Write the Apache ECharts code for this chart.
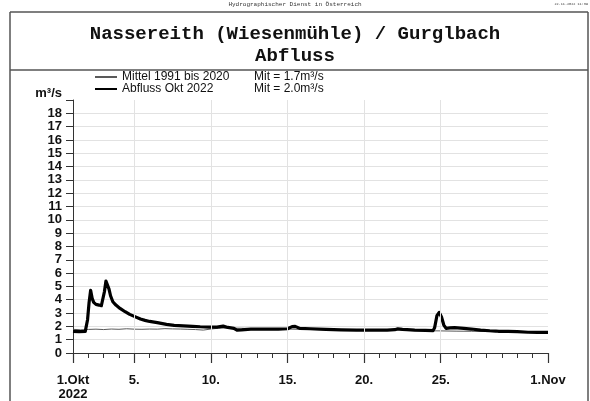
<!DOCTYPE html>
<html>
<head>
<meta charset="utf-8">
<script src="https://cdn.jsdelivr.net/npm/echarts@6/dist/echarts.min.js"></script>
<style>
  html, body { margin: 0; padding: 0; background: #fff; }
  #chart { width: 590px; height: 401px; }
</style>
</head>
<body>
<div id="chart"></div>
<script>
// Days are counted from 1 Oct 2022 00:00 (0) to 1 Nov 2022 00:00 (31).
const abflussTage = [0, 0.4, 0.8, 0.95, 1.05, 1.15, 1.25, 1.35, 1.5, 1.7, 1.85, 1.95, 2.05, 2.15, 2.25, 2.35, 2.45, 2.6, 2.8, 3.07, 3.4, 3.7, 4.0, 4.4, 4.7, 5.0, 5.5, 6.1, 6.6, 7.2, 7.8, 8.3, 8.9, 9.4, 9.8, 10.1, 10.5, 10.7, 11.0, 11.6, 12.2, 12.8, 13.4, 14.0, 14.3, 14.5, 14.8, 15.5, 16.5, 17.5, 18.5, 19.5, 20.5, 21.0, 21.2, 21.5, 21.8, 22.3, 23.0, 23.5, 23.6, 23.75, 23.9, 24.05, 24.2, 24.35, 24.6, 24.9, 25.5, 26.0, 26.6, 27.2, 27.6, 27.7, 27.8, 28.4, 29.0, 29.7, 30.3, 31];
const abflussWerte = [1.62, 1.6, 1.62, 2.5, 3.8, 4.7, 4.1, 3.8, 3.65, 3.6, 3.55, 3.6, 4.6, 5.4, 5.3, 4.8, 4.3, 3.85, 3.6, 3.35, 3.1, 2.9, 2.75, 2.55, 2.45, 2.37, 2.28, 2.15, 2.08, 2.04, 2.0, 1.97, 1.95, 1.94, 2.02, 1.92, 1.85, 1.72, 1.74, 1.8, 1.8, 1.8, 1.8, 1.82, 1.98, 2.0, 1.85, 1.82, 1.77, 1.74, 1.72, 1.72, 1.72, 1.75, 1.82, 1.78, 1.76, 1.72, 1.7, 1.68, 1.9, 2.8, 3.05, 2.7, 2.1, 1.85, 1.88, 1.9, 1.85, 1.8, 1.72, 1.67, 1.65, 1.52, 1.63, 1.62, 1.6, 1.56, 1.55, 1.55];

const mittelTage = [0, 0.5, 1, 1.5, 2, 2.5, 3, 3.5, 4, 4.5, 5, 5.5, 6, 6.5, 7, 7.5, 8, 8.5, 9, 9.5, 10, 11, 12, 13, 14, 15, 16, 17, 18, 19, 20, 21, 22, 23, 24, 25, 26, 27, 28, 29, 30, 31];
const mittelWerte = [1.78, 1.74, 1.77, 1.79, 1.76, 1.8, 1.78, 1.82, 1.79, 1.78, 1.8, 1.79, 1.83, 1.81, 1.8, 1.78, 1.76, 1.72, 1.8, 1.86, 1.88, 1.86, 1.82, 1.79, 1.8, 1.77, 1.75, 1.73, 1.72, 1.71, 1.7, 1.71, 1.69, 1.67, 1.66, 1.64, 1.63, 1.61, 1.6, 1.58, 1.57, 1.56];

// Labelled days on the time axis and their texts
const hauptTage = [0, 4, 9, 14, 19, 24, 31];
const hauptLabels = ['1.Okt\n2022', '5.', '10.', '15.', '20.', '25.', '1.Nov'];

const legendNamen = ['Mittel 1991 bis 2020', 'Abfluss Okt 2022'];
const legendMittelwerte = ['Mit = 1.7m³/s', 'Mit = 2.0m³/s'];

const yMax = 19;
const yLabelMax = 18;

const pairs = (xs, ys) => xs.map((x, i) => [x, ys[i]]);

const frameColor = '#555';
const gridColor = '#e2e2e2';
const axisColor = '#333';

// horizontal grid colours: the line at the top of the plot is left out
const hLineColors = [];
for (let i = 0; i <= yMax; i++) hLineColors.push(i < yMax ? gridColor : 'rgba(0,0,0,0)');

const chart = echarts.init(document.getElementById('chart'), null, { renderer: 'canvas' });

chart.setOption({
  animation: false,
  backgroundColor: '#fff',
  textStyle: { fontFamily: 'Liberation Sans, Arial, sans-serif' },
  title: [
    {
      text: 'Nassereith (Wiesenmühle) / Gurglbach',
      left: 'center', top: 20,
      textStyle: { fontFamily: 'Liberation Mono, Courier New, monospace', fontWeight: 'bold', fontSize: 19, color: '#111' }
    },
    {
      text: 'Abfluss',
      left: 'center', top: 42,
      textStyle: { fontFamily: 'Liberation Mono, Courier New, monospace', fontWeight: 'bold', fontSize: 19, color: '#111' }
    }
  ],
  legend: {
    orient: 'vertical',
    left: 94, top: 71, padding: 0,
    itemWidth: 22, itemHeight: 12, itemGap: 0,
    data: legendNamen,
    itemStyle: { opacity: 0 },
    formatter: name => {
      const i = legendNamen.indexOf(name);
      return '{a|' + name + '}{b|' + legendMittelwerte[i] + '}';
    },
    textStyle: {
      fontSize: 12, color: '#111',
      rich: {
        a: { fontSize: 12, width: 132, color: '#111' },
        b: { fontSize: 12, color: '#111' }
      }
    }
  },
  grid: { left: 73, right: 42, top: 100, bottom: 48, containLabel: false },
  xAxis: [
    {
      type: 'value', min: 0, max: 31, interval: 1,
      axisLine: { show: true, lineStyle: { color: axisColor, width: 1 } },
      axisTick: { show: true, length: 5, lineStyle: { color: axisColor } },
      axisLabel: { show: false },
      splitLine: { show: false }
    },
    {
      type: 'value', min: 0, max: 31, position: 'bottom', offset: 0,
      axisLine: { show: false },
      axisTick: { show: true, length: 10, customValues: hauptTage, lineStyle: { color: axisColor, width: 1.2 } },
      axisLabel: {
        show: true, customValues: hauptTage, margin: 20,
        fontSize: 13, fontWeight: 'bold', color: '#111', lineHeight: 14,
        formatter: v => {
          const i = hauptTage.indexOf(Math.round(v));
          return i >= 0 ? hauptLabels[i] : '';
        }
      },
      splitLine: { show: false }
    }
  ],
  yAxis: {
    type: 'value', min: 0, max: yMax, interval: 1,
    name: 'm³/s', nameLocation: 'end', nameGap: 0,
    nameTextStyle: { fontSize: 13, fontWeight: 'bold', color: '#111', align: 'right', padding: [0, 11, 0, 0] },
    axisLine: { show: true, lineStyle: { color: axisColor, width: 1 } },
    axisTick: { show: true, length: 7, lineStyle: { color: axisColor } },
    axisLabel: {
      margin: 11, fontSize: 13, fontWeight: 'bold', color: '#111',
      formatter: v => (v <= yLabelMax ? String(v) : '')
    },
    splitLine: { show: true, lineStyle: { color: hLineColors, width: 1 } }
  },
  series: [
    {
      name: 'raster', type: 'line', data: [], z: 1, silent: true,
      markLine: {
        silent: true, symbol: 'none', label: { show: false },
        lineStyle: { color: gridColor, width: 1, type: 'solid' },
        data: hauptTage.slice(1, -1).map(d => ({ xAxis: d }))
      }
    },
    {
      name: legendNamen[0], type: 'line', symbol: 'none', z: 2,
      data: pairs(mittelTage, mittelWerte),
      lineStyle: { color: '#5a5a5a', width: 1 },
      itemStyle: { color: '#5a5a5a' }
    },
    {
      name: legendNamen[1], type: 'line', symbol: 'none', z: 3,
      data: pairs(abflussTage, abflussWerte),
      lineStyle: { color: '#000', width: 3.2, join: 'round' },
      itemStyle: { color: '#000' }
    }
  ],
  graphic: [
    { type: 'text', left: 'center', top: 1,
      style: { text: 'Hydrographischer Dienst in Österreich', font: '6px "Liberation Mono", monospace', fill: '#333' } },
    { type: 'text', right: 2, top: 2,
      style: { text: '22.11.2022 11:39', font: '3.5px "Liberation Mono", monospace', fill: '#333' } },
    { type: 'line', shape: { x1: 10, y1: 12, x2: 588, y2: 12 }, style: { stroke: frameColor, lineWidth: 1.5 } },
    { type: 'line', shape: { x1: 10, y1: 12, x2: 10, y2: 401 }, style: { stroke: frameColor, lineWidth: 1.5 } },
    { type: 'line', shape: { x1: 588, y1: 12, x2: 588, y2: 401 }, style: { stroke: frameColor, lineWidth: 1.5 } },
    { type: 'line', shape: { x1: 10, y1: 70, x2: 588, y2: 70 }, style: { stroke: frameColor, lineWidth: 1.5 } }
  ]
});
</script>
</body>
</html>
